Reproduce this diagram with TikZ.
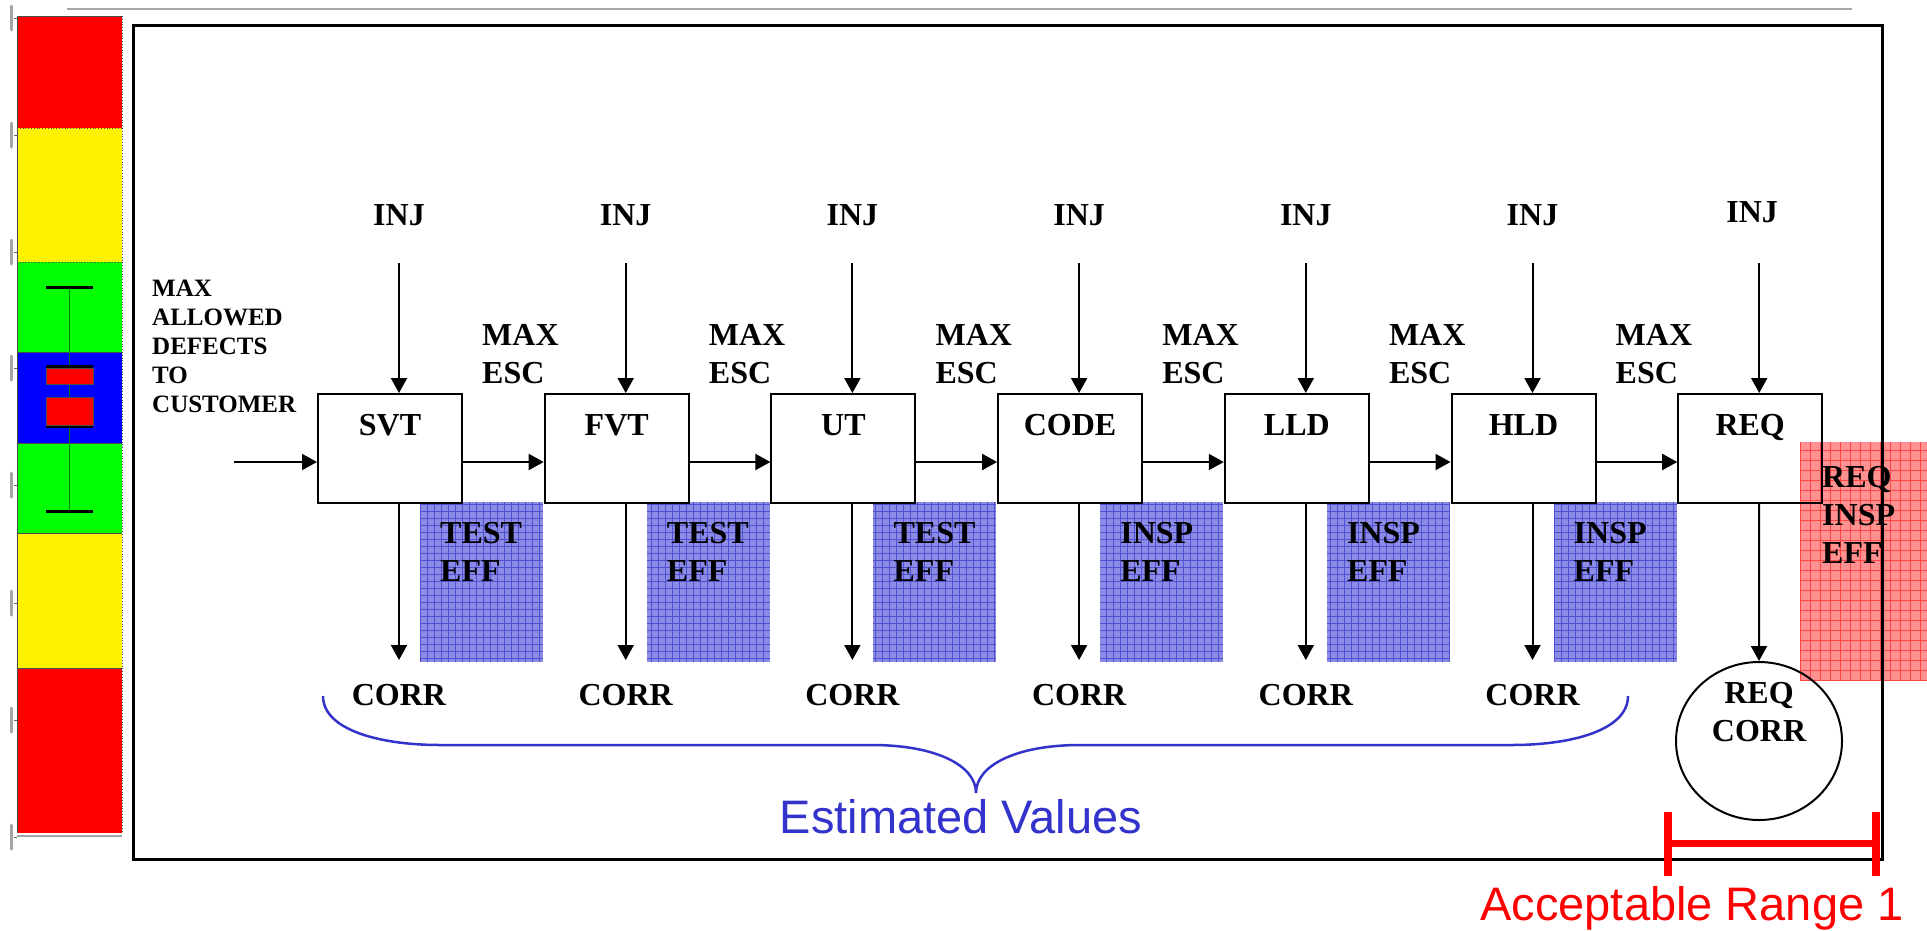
\documentclass[tikz,border=0pt]{standalone}
\usepackage{fontspec}
\setmainfont{Liberation Serif}
\newfontfamily\arialf{Liberation Sans}
\usetikzlibrary{arrows.meta,calc,shapes.geometric}
\definecolor{bfill}{RGB}{140,140,230}
\definecolor{bgrid}{RGB}{80,80,210}
\definecolor{rfill}{RGB}{255,145,145}
\definecolor{rgrid}{RGB}{255,70,70}
\definecolor{bracecol}{RGB}{51,51,204}
\definecolor{tickgray}{RGB}{165,165,165}
\begin{document}
\begin{tikzpicture}[x=1pt,y=-1pt,
  procbox/.style={draw,line width=2pt,minimum width=144pt,minimum height=109pt,inner sep=0pt,anchor=north west},
  lbl/.style={font=\fontsize{32}{38}\selectfont\bfseries,inner sep=0pt},
  arr/.style={line width=2pt,-{Triangle[width=16pt,length=15pt]}},
  sepline/.style={line width=0.8pt,black!70}]
\useasboundingbox (0,0) rectangle (1927,930);

% ---------- left colour bar ----------
\fill[red] (17,16) rectangle (122,128);
\fill[yellow] (17,128) rectangle (122,262);
\fill[green] (17,262) rectangle (122,352);
\fill[blue] (17,352) rectangle (122,443);
\fill[green] (17,443) rectangle (122,533);
\fill[yellow] (17,533) rectangle (122,668);
\fill[red] (17,668) rectangle (122,833);
\draw[sepline,dotted] (17,128) -- (122,128);
\draw[sepline,dotted] (17,262) -- (122,262);
\draw[sepline] (17,352) -- (122,352);
\draw[sepline] (17,443) -- (122,443);
\draw[sepline] (17,533) -- (122,533);
\draw[sepline] (17,668) -- (122,668);
\draw[sepline,dotted] (122,16) -- (122,833);
\draw[sepline] (17,16) -- (17,833);
\draw[sepline] (17,16) -- (122,16);
\draw[tickgray,line width=1.5pt] (17,836) -- (122,836);
% whisker
\draw[line width=1pt,black!50!green] (69,287) -- (69,511);
\draw[line width=3pt] (46,287) -- (93,287);
\draw[line width=3pt] (46,511) -- (93,511);
\draw[line width=3pt] (46,366.5) -- (93,366.5);
\draw[line width=3pt] (46,426.5) -- (93,426.5);
\fill[red,draw=black!70,line width=0.6pt] (46,368) rectangle (93,384);
\fill[red,draw=black!70,line width=0.6pt] (46,397) rectangle (93,425);
% gray tick marks at left
\foreach \ty in {18,135,252,368,485,603,720,837}{
  \draw[tickgray,line width=3pt,line cap=round] (11,\ty-12) -- (11,\ty+12);
  \draw[black!60,line width=0.8pt] (14,\ty) -- (17,\ty);
}
% top gray rule
\draw[tickgray,line width=2pt] (67,9) -- (1852,9);

% ---------- shaded efficiency areas ----------
\foreach \i/\word in {0/TEST,1/TEST,2/TEST,3/INSP,4/INSP,5/INSP}{
  \pgfmathsetmacro\xa{420+226.7*\i}
  \pgfmathsetmacro\xb{543+226.7*\i}
  \fill[bfill] (\xa,502) rectangle (\xb,662);
  \draw[bgrid,line width=0.7pt,step=7pt] (\xa,662) grid (\xb,502);
  \node[lbl,align=left,anchor=north west] (eff\i) at (\xa+20,522) {\word\\EFF};
}
\fill[rfill] (1800,442) rectangle (1927,680);
\draw[rgrid,line width=0.7pt,step=10pt] (1800,680) grid (1927,442);

% ---------- frame ----------
\draw[line width=3pt] (133,25) rectangle (1882,859);

% ---------- process boxes ----------
\foreach \nm/\lab/\ix/\iy [count=\i from 0] in {svt/SVT/0/0,fvt/FVT/0/0,ut/UT/0/0,code/CODE/0/0,lld/LLD/0/0,hld/HLD/0/0,req/REQ/-7/-3}{
  \pgfmathsetmacro\xl{317+226.7*\i}
  \node[procbox] (\nm) at (\xl,393) {};
  \node[lbl,anchor=base] (lab\nm) at ($(\nm.north)+(0,42)$) {\lab};
  \coordinate (inj\nm) at ($(\nm.north west)+(82,-130)$);
  \node[lbl,anchor=base] (injlab\nm) at ($(inj\nm)+(\ix,-38+\iy)$) {INJ};
  \draw[arr] (inj\nm) -- (inj\nm |- \nm.north);
}
% defects in / between stages
\coordinate (inp) at (234,462);
\draw[arr] (inp) -- (inp -| svt.west);
\foreach \a/\b [count=\i from 0] in {svt/fvt,fvt/ut,ut/code,code/lld,lld/hld,hld/req}{
  \draw[arr] (inp -| \a.east) -- (inp -| \b.west);
  \node[lbl,align=left,anchor=north west] (maxesc\i) at (482+226.7*\i,324) {MAX\\ESC};
}
% corrections
\foreach \nm in {svt,fvt,ut,code,lld,hld}{
  \node[lbl,anchor=base] (corr\nm) at ($(\nm.south west)+(82,201)$) {CORR};
  \draw[arr] ($(\nm.south west)+(82,0)$) -- ++(0,156);
}
\node[draw,line width=2pt,ellipse,minimum width=166pt,minimum height=158pt,inner sep=0pt] (reqcorr) at (1759,741) {};
\node[lbl,align=center,anchor=north] (reqcorrlab) at (1759,682) {REQ\\CORR};
\draw[arr] ($(req.south west)+(82,0)$) -- (reqcorr.north);
\node[lbl,align=left,anchor=north west] (reqeff) at (1822,466) {REQ\\INSP\\EFF};

% left text
\node[font=\fontsize{25}{29}\selectfont\bfseries,inner sep=0pt,align=left,anchor=north west] (maxallowed) at (152,280) {MAX\\ALLOWED\\DEFECTS\\TO\\CUSTOMER};

% ---------- brace ----------
\draw[bracecol,line width=2.5pt] (323,696) .. controls (323,730) and (380,745) .. (440,745) -- (872,745)
  .. controls (935,745) and (976,765) .. (976,793)
  .. controls (976,765) and (1017,745) .. (1080,745) -- (1512,745)
  .. controls (1572,745) and (1628,730) .. (1628,696);
\node[text=bracecol,font=\arialf\fontsize{47}{56}\selectfont,anchor=base,inner sep=0pt] (estimated) at (961,833) {Estimated Values};

% ---------- acceptable range ----------
\coordinate (rgA) at (1668,843);
\coordinate (rgB) at (1876,843);
\draw[red,line width=7pt] (rgA) -- (rgB);
\draw[red,line width=8pt] ($(rgA)+(0,-31)$) -- ($(rgA)+(0,33)$);
\draw[red,line width=8pt] ($(rgB)+(0,-31)$) -- ($(rgB)+(0,33)$);
\node[text=red,font=\arialf\fontsize{47}{56}\selectfont,anchor=base,inner sep=0pt] (acceptable) at (1692,920) {Acceptable Range 1};
\end{tikzpicture}
\end{document}
